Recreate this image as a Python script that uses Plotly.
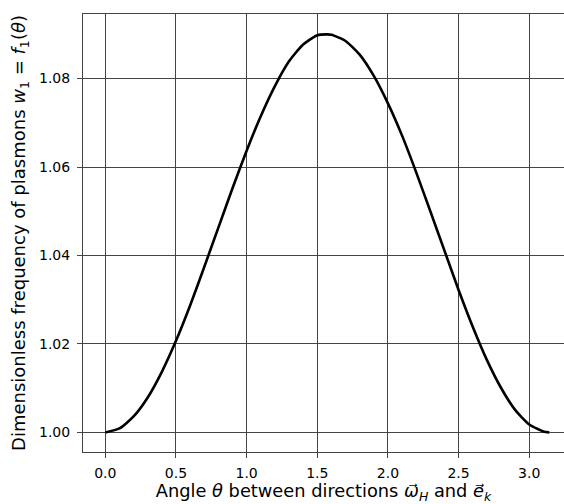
import plotly.graph_objects as go

theta = [0.0, 0.1, 0.2, 0.3, 0.4, 0.5, 0.6, 0.7, 0.8, 0.9, 1.0, 1.1, 1.2, 1.3, 1.4, 1.5,
         1.571, 1.6, 1.7, 1.8, 1.9, 2.0, 2.1, 2.2, 2.3, 2.4, 2.5, 2.6, 2.7, 2.8, 2.9, 3.0,
         3.1, 3.1416]
w1 = [1.0000, 1.0009, 1.0036, 1.0079, 1.0137, 1.0207, 1.0287, 1.0374, 1.0463, 1.0552,
      1.0637, 1.0715, 1.0783, 1.0839, 1.0877, 1.0898, 1.0900, 1.0899, 1.0885, 1.0854,
      1.0806, 1.0744, 1.0671, 1.0588, 1.0500, 1.0411, 1.0322, 1.0239, 1.0164, 1.0101,
      1.0051, 1.0018, 1.0002, 1.0000]

x_ticks = [0.0, 0.5, 1.0, 1.5, 2.0, 2.5, 3.0]
x_tick_labels = ["0.0", "0.5", "1.0", "1.5", "2.0", "2.5", "3.0"]
y_ticks = [1.00, 1.02, 1.04, 1.06, 1.08]
y_tick_labels = ["1.00", "1.02", "1.04", "1.06", "1.08"]

fig = go.Figure()
fig.add_trace(go.Scatter(x=theta, y=w1, mode="lines",
                         line=dict(color="black", width=2.6, shape="spline", smoothing=0.6),
                         showlegend=False, hoverinfo="skip"))

font = "DejaVu Sans, sans-serif"
fig.update_layout(
    width=564, height=504,
    margin=dict(l=83, r=0, t=14, b=52),
    paper_bgcolor="white", plot_bgcolor="white",
    font=dict(family=font, color="black"),
    xaxis=dict(
        range=[-0.158, 3.246], tickvals=x_ticks, ticktext=x_tick_labels,
        showgrid=True, gridcolor="#444", gridwidth=1, zeroline=False,
        showline=True, linecolor="#444", linewidth=1, mirror=True,
        ticks="outside", ticklen=5, tickcolor="#444",
        tickfont=dict(size=14, family=font), ticklabelstandoff=3,
        automargin=False,
        title=dict(text="Angle <i>θ</i> between directions <i>ω⃗</i><sub><i>H</i></sub> and <i>e⃗</i><sub><i>k</i></sub>",
                   font=dict(size=17.8, family=font), standoff=6),
    ),
    yaxis=dict(
        range=[0.99557, 1.0946], tickvals=y_ticks, ticktext=y_tick_labels,
        showgrid=True, gridcolor="#444", gridwidth=1, zeroline=False,
        showline=True, linecolor="#444", linewidth=1, mirror=False,
        ticks="outside", ticklen=5, tickcolor="#444",
        tickfont=dict(size=14, family=font), ticklabelstandoff=4,
        automargin=False,
        title=dict(text="Dimensionless frequency of plasmons <i>w</i><sub>1</sub> = <i>f</i><sub>1</sub>(<i>θ</i>)",
                   font=dict(size=18, family=font), standoff=8),
    ),
)

fig.write_html(
    "out.html",
    config={"displayModeBar": False, "staticPlot": True},
    post_script=(
        "document.body.style.margin='0';"
        "document.body.style.overflow='hidden';"
        "document.documentElement.style.overflow='hidden';"
    ),
)
